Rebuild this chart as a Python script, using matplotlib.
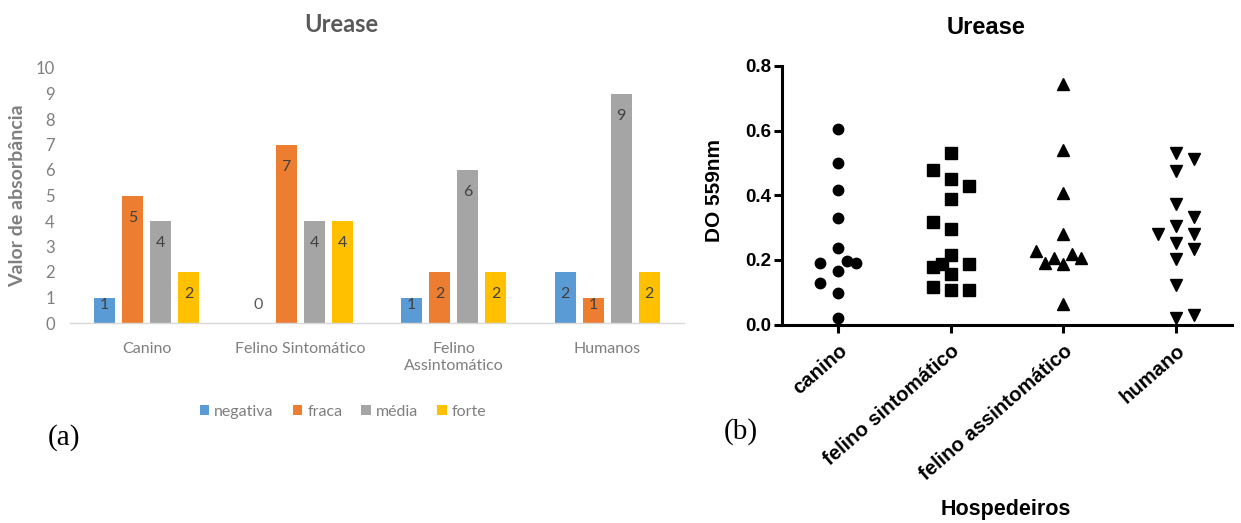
import numpy as np
import matplotlib
matplotlib.use('Agg')
import matplotlib.pyplot as plt
from matplotlib.patches import Patch

# ---- panel (a): bar chart data
categories_a = ['Canino', 'Felino Sintomático', 'Felino\nAssintomático', 'Humanos']
series_names = ['negativa', 'fraca', 'média', 'forte']
negativa = [1, 0, 1, 2]
fraca = [5, 7, 2, 1]
media = [4, 4, 6, 9]
forte = [2, 4, 2, 2]
bar_colors = ['#5B9BD5', '#ED7D31', '#A5A5A5', '#FFC000']

# ---- panel (b): scatter data (DO 559nm per host)
categories_b = ['canino', 'felino sintomático', 'felino assintomático', 'humano']
canino = [0.606, 0.501, 0.415, 0.329, 0.238, 0.190, 0.198, 0.190, 0.166, 0.127, 0.096, 0.019]
felino_sint = [0.530, 0.478, 0.449, 0.428, 0.389, 0.317, 0.296, 0.216, 0.188, 0.188,
               0.177, 0.157, 0.115, 0.107, 0.107]
felino_assint = [0.743, 0.541, 0.407, 0.280, 0.228, 0.189, 0.207, 0.187, 0.218, 0.207, 0.064]
humano = [0.532, 0.513, 0.474, 0.373, 0.332, 0.304, 0.280, 0.280, 0.251, 0.233,
          0.202, 0.121, 0.021, 0.029]

# horizontal spread of overlapping points (in half-marker steps)
spread_canino = [0, 0, 0, 0, 0, -2, 1, 2, 0, -2, 0, 0]
spread_fsint = [0, -2, 0, 2, 0, -2, 0, 0, 2, -1, -2, 0, -2, 0, 2]
spread_fassint = [0, 0, 0, 0, -3, -2, -1, 0, 1, 2, 0]
spread_humano = [0, 2, 0, 0, 2, 0, -2, 2, 0, 2, 0, 0, 0, 2]
markers = ['o', 's', '^', 'v']

W, H = 1241, 523
fig = plt.figure(figsize=(W / 100, H / 100), dpi=100)

# ================= panel (a)
gray_txt = '#7f7f7f'
ax1 = fig.add_axes([70 / W, (H - 323) / H, (684 - 70) / W, (323 - 68) / H])
x = np.arange(len(categories_a))
bw = 0.137
step = 0.183
all_series = [negativa, fraca, media, forte]
for i, (vals, col) in enumerate(zip(all_series, bar_colors)):
    xs = x + (i - 1.5) * step
    ax1.bar(xs, vals, width=bw, color=col, zorder=2)
    for xi, v in zip(xs, vals):
        ly = max(v - 0.87, 0.7)
        ax1.text(xi, ly, str(v), ha='center', va='center', fontsize=11.5,
                 color='#404040' if v > 0 else '#595959', family='Lato')

ax1.set_xlim(-0.5, 3.5)
ax1.set_ylim(0, 10)
ax1.set_yticks(range(0, 11))
ax1.set_xticks(x)
ax1.set_xticklabels(categories_a, fontsize=11.5, color=gray_txt, family='Lato')
for lbl in ax1.get_yticklabels():
    lbl.set_fontsize(12)
    lbl.set_color(gray_txt)
    lbl.set_family('Lato')
ax1.tick_params(axis='both', length=0)
ax1.tick_params(axis='y', pad=11)
ax1.tick_params(axis='x', pad=14)
for s in ['left', 'right', 'top']:
    ax1.spines[s].set_visible(False)
ax1.spines['bottom'].set_color('#d9d9d9')
ax1.spines['bottom'].set_linewidth(1.0)
ax1.set_ylabel('Valor de absorbância', fontsize=14, fontweight='bold',
               color=gray_txt, family='Lato')
ax1.yaxis.set_label_coords(-0.072, 0.5)
fig.text(341 / W, 1 - 25 / H, 'Urease', ha='center', va='center', fontsize=17,
         fontweight='bold', color='#595959', family='Lato')

handles = [Patch(facecolor=c, edgecolor='none') for c in bar_colors]
leg = fig.legend(handles, series_names, loc='center', ncol=4,
                 bbox_to_anchor=(343 / W, 1 - 412 / H), frameon=False,
                 handlelength=0.6, handleheight=0.6, handletextpad=0.3,
                 columnspacing=1.2, prop={'family': 'Lato', 'size': 11.5})
for t in leg.get_texts():
    t.set_color(gray_txt)

fig.text(64 / W, 1 - 438 / H, '(a)', ha='center', va='center', fontsize=21,
         family='Liberation Serif')

# ================= panel (b)
ax2 = fig.add_axes([782 / W, (H - 324.5) / H, (1232 - 782) / W, (324.5 - 66) / H])
groups = [canino, felino_sint, felino_assint, humano]
spreads = [spread_canino, spread_fsint, spread_fassint, spread_humano]
half_step = 0.08
for i, (vals, spr, m) in enumerate(zip(groups, spreads, markers)):
    xs = i + np.array(spr) * half_step
    ax2.plot(xs, vals, linestyle='none', marker=m, color='black',
             markersize=7.5 if m == 'o' else 8.2, clip_on=False, zorder=3)

ax2.set_xlim(-0.5, 3.5)
ax2.set_ylim(0, 0.8)
ax2.set_yticks([0.0, 0.2, 0.4, 0.6, 0.8])
ax2.set_yticklabels(['0.0', '0.2', '0.4', '0.6', '0.8'])
ax2.set_xticks(range(4))
ax2.set_xticklabels(categories_b, rotation=41, ha='right', rotation_mode='anchor')
for lbl in ax2.get_xticklabels() + ax2.get_yticklabels():
    lbl.set_fontweight('bold')
    lbl.set_family('Liberation Sans')
for lbl in ax2.get_yticklabels():
    lbl.set_fontsize(13.5)
for lbl in ax2.get_xticklabels():
    lbl.set_fontsize(14.6)
ax2.tick_params(axis='both', direction='out', length=6, width=2.2, color='black')
ax2.tick_params(axis='y', pad=2)
ax2.tick_params(axis='x', pad=6)
for s in ['right', 'top']:
    ax2.spines[s].set_visible(False)
for s in ['left', 'bottom']:
    ax2.spines[s].set_linewidth(2.2)
ax2.set_ylabel('DO 559nm', fontsize=15, fontweight='bold', family='Liberation Sans')
ax2.yaxis.set_label_coords(-58 / 450, 0.52)
fig.text(1006 / W, 1 - 509 / H, 'Hospedeiros', ha='center', va='center',
         fontsize=15.5, fontweight='bold', family='Liberation Sans')
fig.text(986 / W, 1 - 27 / H, 'Urease', ha='center', va='center', fontsize=17,
         fontweight='bold', family='Liberation Sans')
fig.text(741 / W, 1 - 432 / H, '(b)', ha='center', va='center', fontsize=21,
         family='Liberation Serif')

fig.savefig('out.png', dpi=100)
